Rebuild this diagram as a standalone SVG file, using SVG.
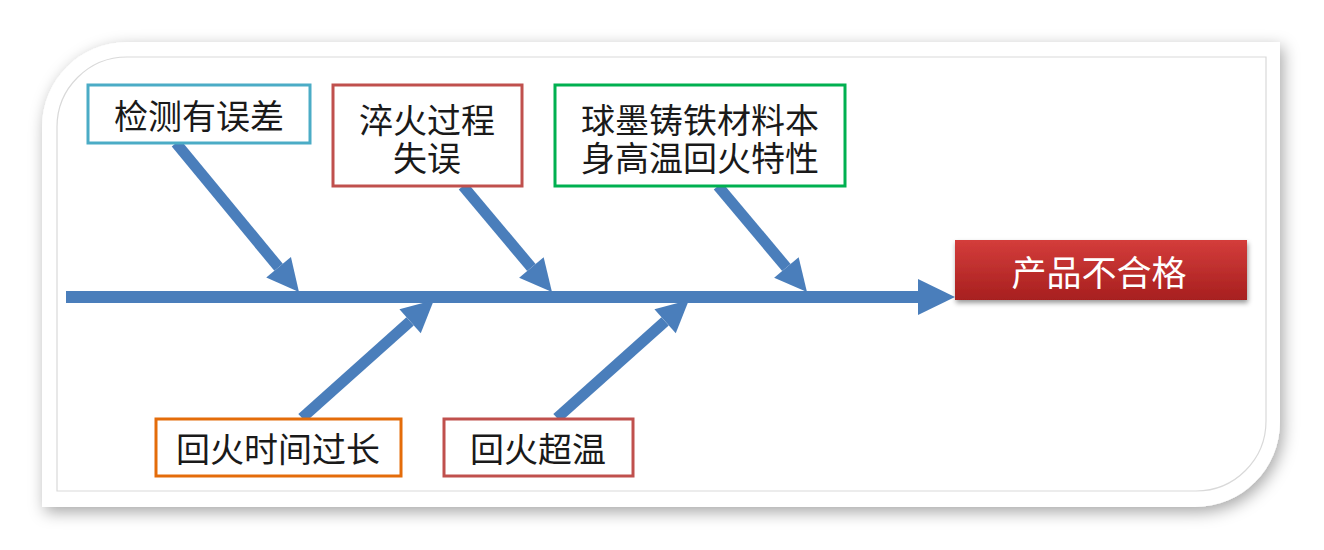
<svg xmlns="http://www.w3.org/2000/svg" width="1324" height="550" viewBox="0 0 1324 550">
<defs>
<filter id="frameShadow" x="-10%" y="-20%" width="120%" height="140%">
<feDropShadow dx="3" dy="5" stdDeviation="8" flood-color="#000" flood-opacity="0.35"/>
</filter>
<filter id="boxShadow" x="-10%" y="-30%" width="120%" height="170%">
<feDropShadow dx="1" dy="3" stdDeviation="2.5" flood-color="#000" flood-opacity="0.4"/>
</filter>
<linearGradient id="redGrad" x1="0" y1="0" x2="0" y2="1">
<stop offset="0" stop-color="#d43d3b"/>
<stop offset="1" stop-color="#a71f1f"/>
</linearGradient>
<marker id="head" markerUnits="userSpaceOnUse" markerWidth="34" markerHeight="32" refX="0" refY="16" orient="auto" overflow="visible">
<path d="M0,0 L32,16 L0,32 Z" fill="#4a7ebb"/>
</marker>
</defs>
<style>
.box{fill:#fff;stroke-width:3}
.lbl{font-family:"Noto Sans CJK SC","Noto Sans",sans-serif;font-size:34px;fill:#1a1a1a;text-anchor:middle;dominant-baseline:central}
.bone{stroke:#4a7ebb;stroke-width:11;fill:none;marker-end:url(#head)}
</style>
<rect width="1324" height="550" fill="#fff"/>
<path d="M42,127 A85,85 0 0 1 127,42 L1280,42 L1280,422 A85,85 0 0 1 1195,507 L42,507 Z" fill="#fff" filter="url(#frameShadow)"/>
<path d="M57,127 A70,70 0 0 1 127,57 L1266,57 L1266,421 A70,70 0 0 1 1196,491 L57,491 Z" fill="none" stroke="#d9d9d9" stroke-width="1.2"/>
<g id="connectors">
<line x1="66" y1="297" x2="919" y2="297" stroke="#4a7ebb" stroke-width="12"/>
<polygon points="918,279 955,297 918,315" fill="#4a7ebb"/>
<line class="bone" x1="176" y1="143" x2="278.6" y2="267.3"/>
<line class="bone" x1="463" y1="186" x2="531.4" y2="267.5"/>
<line class="bone" x1="718" y1="186" x2="786.4" y2="267.5"/>
<line class="bone" x1="302" y1="418" x2="410.1" y2="321.3"/>
<line class="bone" x1="557" y1="418" x2="665.1" y2="321.3"/>
</g>
<g id="n1">
<rect class="box" x="88" y="85" width="222" height="58" stroke="#4bacc6"/>
<text class="lbl" x="199" y="114">检测有误差</text>
</g>
<g id="n2">
<rect class="box" x="333" y="85" width="189" height="101" stroke="#c0504d"/>
<text class="lbl" x="427" y="118">淬火过程</text>
<text class="lbl" x="427" y="156">失误</text>
</g>
<g id="n3">
<rect class="box" x="555" y="85" width="290" height="101" stroke="#00b050"/>
<text class="lbl" x="700" y="118">球墨铸铁材料本</text>
<text class="lbl" x="700" y="156">身高温回火特性</text>
</g>
<g id="n4">
<rect class="box" x="156" y="419" width="245" height="57" stroke="#e46c0a"/>
<text class="lbl" x="278" y="447">回火时间过长</text>
</g>
<g id="n5">
<rect class="box" x="444" y="419" width="189" height="57" stroke="#c0504d"/>
<text class="lbl" x="538" y="447">回火超温</text>
</g>
<g id="result">
<rect x="955" y="240" width="292" height="60" fill="url(#redGrad)" filter="url(#boxShadow)"/>
<text class="lbl" x="1099" y="270" style="fill:#fff;font-size:35px">产品不合格</text>
</g>
</svg>
